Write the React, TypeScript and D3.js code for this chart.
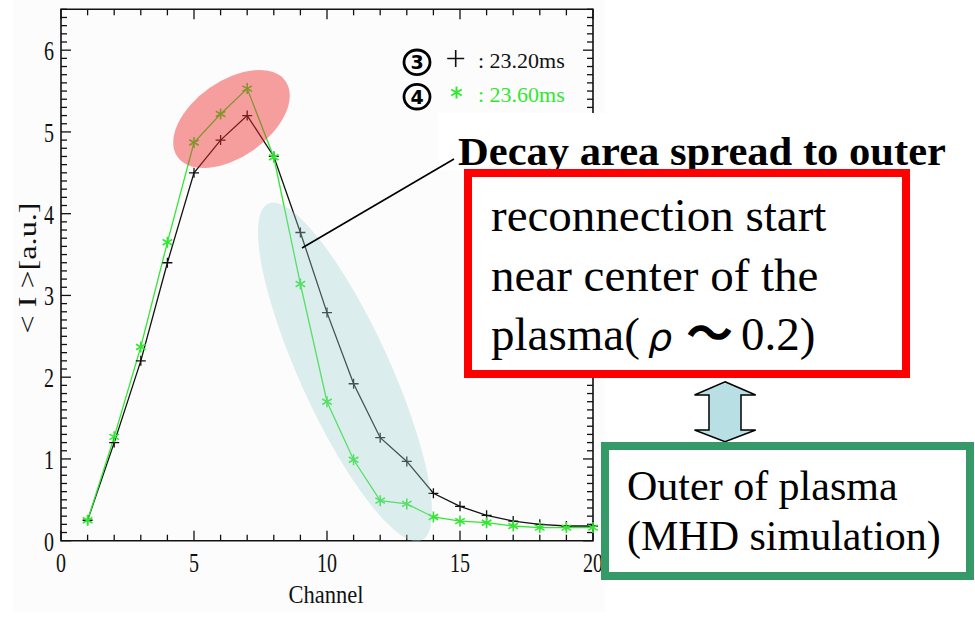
import React from "react";
import * as d3 from "d3";

const channels = [1, 2, 3, 4, 5, 6, 7, 8, 9, 10, 11, 12, 13, 14, 15, 16, 17, 18, 19, 20];
const series3 = [0.25, 1.2, 2.2, 3.4, 4.5, 4.9, 5.2, 4.7, 3.77, 2.79, 1.92, 1.26, 0.97, 0.58, 0.42, 0.31, 0.24, 0.2, 0.18, 0.18];
const series4 = [0.25, 1.27, 2.37, 3.65, 4.87, 5.22, 5.53, 4.69, 3.14, 1.7, 0.99, 0.49, 0.45, 0.29, 0.24, 0.22, 0.18, 0.16, 0.16, 0.16];
const xTickLabels = ["0", "5", "10", "15", "20"];
const yTickLabels = ["0", "1", "2", "3", "4", "5", "6"];
const legendLabels = [": 23.20ms", ": 23.60ms"];
const legendNums = ["3", "4"];
const xTitle = "Channel";
const yTitle = "< I >[a.u.]";
const annotTitle = "Decay area spread to outer";
const redLines = ["reconnection start", "near center of the"];
const greenLines = ["Outer of plasma", "(MHD simulation)"];

const W = 975;
const H = 621;
const GREEN = "#30e830";
const SERIF = "'Liberation Serif', 'Times New Roman', serif";

export default function App() {
  const x = d3.scaleLinear().domain([0, 20]).range([61, 593]);
  const y = d3.scaleLinear().domain([0, 6.5]).range([540.7, 9.3]);
  const d3s = channels.map((c, i) => [c, series3[i]] as [number, number]);
  const d4s = channels.map((c, i) => [c, series4[i]] as [number, number]);
  const line = d3.line<[number, number]>().x((d) => x(d[0])).y((d) => y(d[1]));

  const xMinor = d3.range(0, 21, 1);
  const yMinor = d3.range(0, 66, 1).map((v) => v / 10);
  const [x0, x1] = x.range();
  const [y0, y1] = y.range();

  const plus = (cx: number, cy: number, s: number) =>
    `M${cx - s},${cy}H${cx + s}M${cx},${cy - s}V${cy + s}`;
  const star = (cx: number, cy: number, s: number) => {
    const a = s * 0.87;
    const b = s * 0.5;
    return `M${cx},${cy - s}V${cy + s}M${cx - a},${cy - b}L${cx + a},${cy + b}M${cx - a},${cy + b}L${cx + a},${cy - b}`;
  };

  const legendY = [62.3, 96.7];

  return (
    <svg width={W} height={H} style={{ position: "absolute", left: 0, top: 0, background: "#fff" }}>
      <rect x={13} y={0} width={592} height={612} fill="#fcfcfc" />
      {/* axes frame */}
      <g stroke="#111" strokeWidth={1.3} fill="none">
        <path d={`M${x0},${y1}H${x1}V${y0}H${x0}Z`} strokeWidth={1.6} />
        {xMinor.map((v) => {
          const len = v % 5 === 0 ? 10 : 6;
          return (
            <g key={"xt" + v}>
              <line x1={x(v)} x2={x(v)} y1={y0} y2={y0 - len} />
              <line x1={x(v)} x2={x(v)} y1={y1} y2={y1 + len} />
            </g>
          );
        })}
        {yMinor.map((v, i) => {
          const len = i % 10 === 0 ? 10 : 6;
          return (
            <g key={"yt" + i}>
              <line x1={x0} x2={x0 + len} y1={y(v)} y2={y(v)} />
              <line x1={x1} x2={x1 - len} y1={y(v)} y2={y(v)} />
            </g>
          );
        })}
      </g>
      {/* tick labels */}
      <g fontFamily={SERIF} fontSize={27} fill="#111">
        {xTickLabels.map((t) => (
          <text key={"xl" + t} x={x(+t)} y={571.7} textAnchor="middle" textLength={10 * t.length} lengthAdjust="spacingAndGlyphs">
            {t}
          </text>
        ))}
        {yTickLabels.map((t) => (
          <text key={"yl" + t} x={54} y={y(+t) + 10} textAnchor="end" textLength={10 * t.length} lengthAdjust="spacingAndGlyphs">
            {t}
          </text>
        ))}
      </g>
      <text x={326} y={603} textAnchor="middle" fontFamily={SERIF} fontSize={25} textLength={75} lengthAdjust="spacingAndGlyphs" fill="#111">
        {xTitle}
      </text>
      <text transform="translate(36,268) rotate(-90)" textAnchor="middle" fontFamily={SERIF} fontSize={25} textLength={131} lengthAdjust="spacingAndGlyphs" fill="#111">
        {yTitle}
      </text>

      {/* data */}
      <path d={line(d3s) || ""} fill="none" stroke="#111" strokeWidth={1.3} />
      <path d={line(d4s) || ""} fill="none" stroke={GREEN} strokeWidth={1.3} />
      {d3s.map((d, i) => (
        <path key={"p3" + i} d={plus(x(d[0]), y(d[1]), 5)} stroke="#111" strokeWidth={1.3} />
      ))}
      {d4s.map((d, i) => (
        <path key={"p4" + i} d={star(x(d[0]), y(d[1]), 5.5)} stroke={GREEN} strokeWidth={1.6} />
      ))}

      {/* highlight ellipses */}
      <ellipse cx={231.5} cy={119} rx={66} ry={38} transform="rotate(-35 231.5 119)" fill="rgb(240,45,45)" fillOpacity={0.45} />
      <ellipse cx={345} cy={372} rx={185} ry={45} transform="rotate(65.5 345 372)" fill="rgb(160,210,212)" fillOpacity={0.35} />

      {/* legend */}
      {legendNums.map((n, i) => (
        <g key={"ln" + n}>
          <ellipse cx={417} cy={legendY[i]} rx={13} ry={12.3} fill="none" stroke="#000" strokeWidth={2.8} />
          <text x={417} y={legendY[i] + 7} textAnchor="middle" fontFamily="'DejaVu Sans', sans-serif" fontWeight="bold" fontSize={19} fill="#000">
            {n}
          </text>
        </g>
      ))}
      <path d={plus(455.7, 58.5, 8.5)} stroke="#111" strokeWidth={1.6} />
      <path d={star(456.5, 92.5, 6)} stroke={GREEN} strokeWidth={2} />
      <g fontFamily={SERIF} fontSize={22}>
        <text x={478} y={68.3} fill="#111">{legendLabels[0]}</text>
        <text x={478} y={101.7} fill={GREEN}>{legendLabels[1]}</text>
      </g>

      {/* annotation */}
      <rect x={438} y={113} width={530} height={57} fill="#fff" />
      <line x1={302} y1={248} x2={454} y2={159} stroke="#000" strokeWidth={1.6} />
      <text x={458} y={165} fontFamily={SERIF} fontWeight="bold" fontSize={41} textLength={488} lengthAdjust="spacingAndGlyphs" fill="#000">
        {annotTitle}
      </text>
      <rect x={468} y={173} width={438} height={201} fill="#fff" stroke="#ff0000" strokeWidth={8} />
      <g fontFamily={SERIF} fontSize={47} fill="#000">
        <text x={491} y={231}>{redLines[0]}</text>
        <text x={491} y={291}>{redLines[1]}</text>
        <text x={491} y={350}>
          plasma(
          <tspan x={648} fontFamily="'DejaVu Sans', sans-serif" fontStyle="italic" fontSize={38}>ρ</tspan>
          <tspan x={686} fontFamily="'Noto Sans CJK JP', sans-serif" fontWeight="bold" fontSize={47}>～</tspan>
          <tspan x={741}>0.2)</tspan>
        </text>
      </g>

      {/* double arrow */}
      <path d="M725,381.7L755.7,395H741V430H755.7L725,441.7L694.5,430H709V395H694.5Z" fill="#b8e0e4" stroke="#000" strokeWidth={1.5} />

      <rect x={605} y={446} width={365} height={130} fill="#fff" stroke="#359a68" strokeWidth={8} />
      <g fontFamily={SERIF} fontSize={42} fill="#000">
        <text x={627} y={500}>{greenLines[0]}</text>
        <text x={627} y={550}>{greenLines[1]}</text>
      </g>
    </svg>
  );
}
